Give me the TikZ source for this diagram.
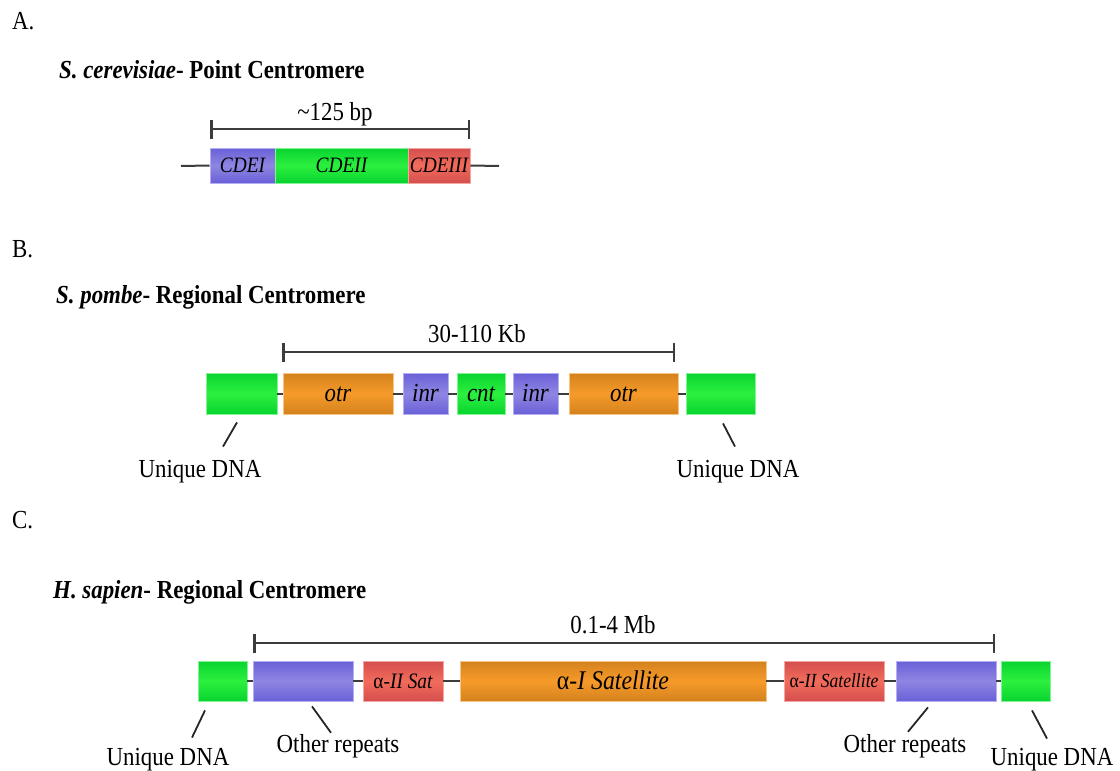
\documentclass[tikz,border=0pt]{standalone}
\usepackage{fontspec}
\setmainfont[FakeStretch=0.88]{Liberation Serif}
\usetikzlibrary{arrows.meta}

\definecolor{topblue}{HTML}{6A60D8}
\definecolor{midblue}{HTML}{8E86E2}
\definecolor{edgeblue}{HTML}{B4AEF2}
\definecolor{topgreen}{HTML}{08D430}
\definecolor{midgreen}{HTML}{2CF03E}
\definecolor{edgegreen}{HTML}{86F296}
\definecolor{topred}{HTML}{D44E4E}
\definecolor{midred}{HTML}{F26C5C}
\definecolor{edgered}{HTML}{F4A6A0}
\definecolor{toporange}{HTML}{D4821E}
\definecolor{midorange}{HTML}{F69A2A}
\definecolor{edgeorange}{HTML}{F6C684}
\definecolor{lineGray}{HTML}{3C3C3C}

\tikzset{
    seg/.style={draw=edge#1, line width=0.8pt, top color=top#1, bottom color=top#1,
        middle color=mid#1, inner sep=0pt, text depth=0pt},
    dna/.style={draw=lineGray, line width=2pt},
    span/.style={draw=lineGray, line width=2.5pt, {Bar[width=19pt]}-{Bar[width=19pt]}},
    leader/.style={draw=black!85, line width=1.8pt},
    lbl/.style={inner sep=0pt, anchor=base, font=\fontsize{26}{30}\selectfont},
    head/.style={inner sep=0pt, anchor=base west, font=\fontsize{26}{30}\selectfont},
}

\begin{document}
\begin{tikzpicture}[x=1pt, y=-1pt]
    \useasboundingbox (0,0) rectangle (1120,771);

    %% A. point centromere
    \node[head] (hA) at (12,30) {A.};
    \node[head, font=\bfseries\fontsize{26}{30}\selectfont] (tA) at (59,78)
        {\textit{S. cerevisiae}- Point Centromere};

    \coordinate (spA1) at (210,129);
    \coordinate (spA2) at (470,129);
    \draw[span] (spA1) -- (spA2);
    \node[lbl] (lenA) at (335,120) {\textasciitilde125 bp};

    \foreach \nm/\cx/\w/\col/\txt in {
        cdeI/242.5/65/blue/CDEI, cdeII/341.5/133/green/CDEII, cdeIII/439/62/red/CDEIII
    } {
        \node[seg=\col, minimum width=\w pt, minimum height=35pt, text height=14.5pt,
            font=\itshape\fontsize{22}{26}\selectfont] (\nm) at (\cx,165.5) {\txt};
    }
    \coordinate (dnaA1) at (181,166);
    \coordinate (dnaA2) at (499,166);
    \draw[dna] (dnaA1) -- (cdeI.west);
    \draw[dna] (cdeIII.east) -- (dnaA2);

    %% B. S. pombe
    \node[head] (hB) at (12,257) {B.};
    \node[head, font=\bfseries\fontsize{26}{30}\selectfont] (tB) at (56,303)
        {\textit{S. pombe}- Regional Centromere};

    \coordinate (spB1) at (282,352);
    \coordinate (spB2) at (675,352);
    \draw[span] (spB1) -- (spB2);
    \node[lbl] (lenB) at (477,342) {30-110 Kb};

    \foreach \nm/\cx/\w/\col/\txt in {
        ugB1/241.5/71/green/, otr1/338/110/orange/otr, inr1/425.5/45/blue/inr,
        cnt/481/48/green/cnt, inr2/535.5/45/blue/inr, otr2/623.5/109/orange/otr,
        ugB2/720.5/69/green/
    } {
        \node[seg=\col, minimum width=\w pt, minimum height=41pt, text height=16pt,
            font=\itshape\fontsize{26}{30}\selectfont] (\nm) at (\cx,393.5) {\txt};
    }
    \foreach \a/\b in {ugB1/otr1, otr1/inr1, inr1/cnt, cnt/inr2, inr2/otr2, otr2/ugB2} {
        \draw[dna] (\a.east) -- (\b.west);
    }

    \node[lbl] (uqB1) at (200,477) {Unique DNA};
    \node[lbl] (uqB2) at (738,477) {Unique DNA};
    \draw[leader] ([shift={(-4.5,8)}]ugB1.south) -- ([shift={(23,-13)}]uqB1.north);
    \draw[leader] ([shift={(2.5,9)}]ugB2.south) -- ([shift={(-3,-13)}]uqB2.north);

    %% C. H. sapien
    \node[head] (hC) at (12,528) {C.};
    \node[head, font=\bfseries\fontsize{26}{30}\selectfont] (tC) at (53,598)
        {\textit{H. sapien}- Regional Centromere};

    \coordinate (spC1) at (253,643);
    \coordinate (spC2) at (995,643);
    \draw[span] (spC1) -- (spC2);
    \node[lbl] (lenC) at (613,633) {0.1-4 Mb};

    \foreach \nm/\cx/\w/\col/\fs/\txt in {
        ugC1/222.5/49/green/22/, orC1/303/100/blue/22/,
        satA/403/80/red/22/{\textup{α}-II Sat},
        satB/613/306/orange/27/{\textup{α}-I Satellite},
        satC/834/100/red/20/{\textup{α}-II Satellite},
        orC2/946/100/blue/22/, ugC2/1025.5/49/green/22/
    } {
        \node[seg=\col, minimum width=\w pt, minimum height=40pt, text height={0.66*\fs*1pt},
            font=\itshape\fontsize{\fs}{\fs}\selectfont] (\nm) at (\cx,681) {\txt};
    }
    \foreach \a/\b in {ugC1/orC1, orC1/satA, satA/satB, satB/satC, satC/orC2, orC2/ugC2} {
        \draw[dna] (\a.east) -- (\b.west);
    }

    \node[lbl] (uqC1) at (168,765) {Unique DNA};
    \node[lbl] (otC1) at (338,752) {Other repeats};
    \node[lbl] (otC2) at (905,752) {Other repeats};
    \node[lbl] (uqC2) at (1052,765) {Unique DNA};
    \draw[leader] ([shift={(-17.5,9)}]ugC1.south) -- ([shift={(24,-10)}]uqC1.north);
    \draw[leader] ([shift={(9,5)}]orC1.south) -- ([shift={(-7,-1)}]otC1.north);
    \draw[leader] ([shift={(-18,6)}]orC2.south) -- ([shift={(3,-2)}]otC2.north);
    \draw[leader] ([shift={(6.5,9)}]ugC2.south) -- ([shift={(-5,-9)}]uqC2.north);
\end{tikzpicture}
\end{document}
